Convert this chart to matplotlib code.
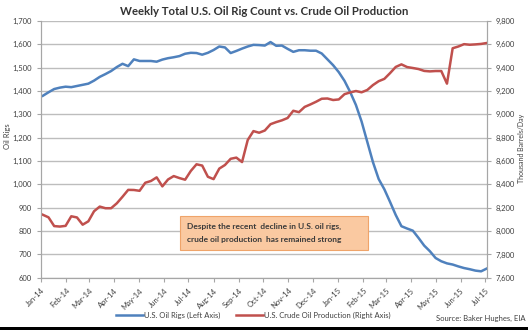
import pandas as pd
import matplotlib
matplotlib.use('Agg')
from matplotlib import pyplot as plt
import matplotlib.dates as mdates
from matplotlib.patches import FancyBboxPatch, Rectangle

plt.rcParams['font.family'] = ['Lato', 'DejaVu Sans']

# weekly data, Jan 3 2014 .. Jul 3 2015
weeks = pd.date_range('2014-01-03', periods=79, freq='7D')

oil_rigs = [1379, 1394, 1408, 1414, 1418, 1416, 1421, 1426, 1431, 1444,
            1460, 1472, 1485, 1502, 1516, 1506, 1535, 1528, 1528, 1528,
            1525, 1534, 1540, 1544, 1549, 1559, 1563, 1562, 1555, 1563,
            1575, 1590, 1586, 1562, 1571, 1581, 1590, 1597, 1596, 1594,
            1609, 1593, 1594, 1580, 1567, 1574, 1574, 1572, 1572, 1560,
            1535, 1510, 1480, 1443, 1395, 1340, 1269, 1182, 1095, 1023,
            979, 925, 869, 821, 811, 802, 771, 738, 714, 685,
            671, 662, 657, 649, 642, 637, 631, 628, 640]

production = [8140, 8118, 8043, 8039, 8045, 8127, 8117, 8055, 8084, 8170,
              8210, 8196, 8196, 8238, 8294, 8353, 8352, 8345, 8414, 8429,
              8460, 8383, 8442, 8471, 8454, 8440, 8515, 8572, 8561, 8465,
              8445, 8535, 8566, 8619, 8629, 8591, 8780, 8856, 8842, 8861,
              8915, 8933, 8948, 8968, 9030, 9018, 9063, 9084, 9107, 9133,
              9135, 9122, 9127, 9172, 9187, 9199, 9188, 9208, 9250, 9283,
              9303, 9352, 9405, 9427, 9404, 9396, 9387, 9371, 9367, 9370,
              9370, 9262, 9565, 9580, 9600, 9595, 9598, 9602, 9610]

left_ticks = list(range(600, 1701, 100))
right_ticks = list(range(7600, 9801, 200))

blue = '#4F81BD'
red = '#C0504D'
grid_c = '#BDBDBD'
text_c = '#404040'

fig = plt.figure(figsize=(5.28, 3.3), dpi=100)
ax = fig.add_axes([0.078, 0.158, 0.844, 0.779])
ax2 = ax.twinx()

l1, = ax.plot(weeks, oil_rigs, color=blue, lw=1.8, label='U.S. Oil Rigs (Left Axis)')
l2, = ax2.plot(weeks, production, color=red, lw=1.8,
               label='U.S. Crude Oil Production (Right Axis)')

ax.set_ylim(600, 1700)
ax2.set_ylim(7600, 9800)
ax.set_yticks(left_ticks)
ax2.set_yticks(right_ticks)
ax.set_yticklabels([f'{v:,}' for v in left_ticks])
ax2.set_yticklabels([f'{v:,}' for v in right_ticks])
ax.set_xlim(pd.Timestamp('2014-01-01'), pd.Timestamp('2015-07-03'))
ax.xaxis.set_major_locator(mdates.MonthLocator())
ax.xaxis.set_major_formatter(mdates.DateFormatter('%b-%y'))

ax.grid(axis='y', color=grid_c, lw=1)
ax.set_axisbelow(True)
for a in (ax, ax2):
    a.spines['top'].set_visible(False)
    for s in ('left', 'right', 'bottom'):
        a.spines[s].set_color('#A6A6A6')
    a.tick_params(colors='#A6A6A6', labelcolor=text_c, labelsize=5.5, length=3, width=0.8)

plt.setp(ax.get_xticklabels(), rotation=45, ha='right', rotation_mode='anchor')

ax.set_ylabel('Oil Rigs', fontsize=5.5, color=text_c, labelpad=2)
ax.yaxis.set_label_coords(-0.068, 0.55)
fig.text(0.988, 0.55, 'Thousand Barrels/Day', rotation=90, fontsize=5,
         color=text_c, ha='center', va='center')

fig.text(0.5, 0.965, 'Weekly Total U.S. Oil Rig Count vs. Crude Oil Production',
         ha='center', va='center', fontsize=8.2, fontweight='bold', color='#333333')

# annotation box
box = FancyBboxPatch((0.341, 0.243), 0.356, 0.103, transform=fig.transFigure,
                     boxstyle='square,pad=0', facecolor='#FAC9A1',
                     edgecolor='#EFA46A', lw=0.8, zorder=5)
fig.patches.append(box)
fig.text(0.354, 0.315, 'Despite the recent  decline in U.S. oil rigs,',
         fontsize=6, fontweight='bold', color='#3A3A3A', va='center', zorder=6)
fig.text(0.354, 0.273, 'crude oil production  has remained strong',
         fontsize=6, fontweight='bold', color='#3A3A3A', va='center', zorder=6)

fig.legend(handles=[l1, l2], loc='center', bbox_to_anchor=(0.48, 0.045),
           ncol=2, frameon=False, fontsize=5.5, handlelength=3.5,
           columnspacing=2, handletextpad=0.2)
for t in fig.legends[0].get_texts():
    t.set_color(text_c)

fig.text(0.995, 0.035, 'Source: Baker Hughes, EIA', ha='right', va='center',
         fontsize=5.5, color=text_c)

fig.patches.append(Rectangle((0, 0), 1, 0.008, transform=fig.transFigure,
                             facecolor='black', edgecolor='none'))

plt.savefig('out.png', dpi=100)
